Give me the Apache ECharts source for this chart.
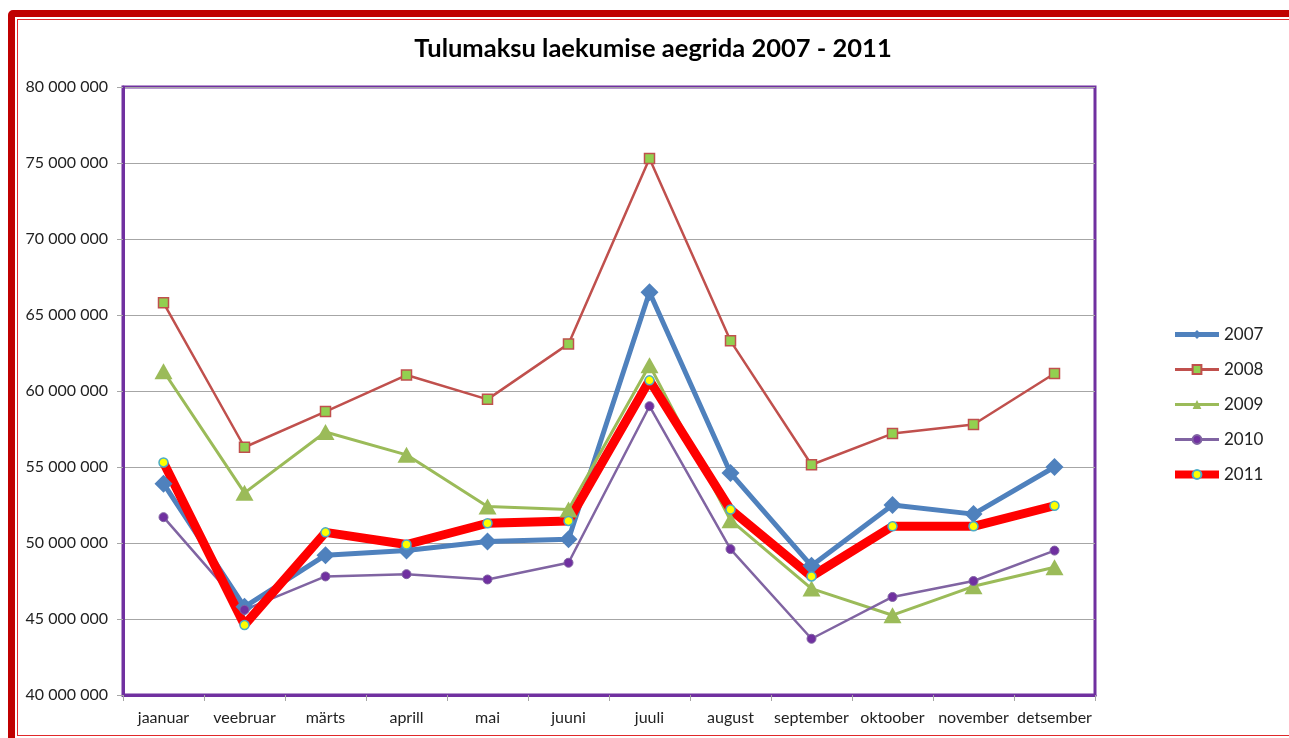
<!DOCTYPE html>
<html>
<head>
<meta charset="utf-8">
<script src="https://cdn.jsdelivr.net/npm/echarts@6/dist/echarts.min.js"></script>
<style>
  html, body { margin: 0; padding: 0; background: #fff; overflow: hidden; }
  .frame-outer {
    position: absolute; left: 8px; top: 10px; width: 1300px; height: 735px;
    box-sizing: border-box; border: 7px solid #C00000; border-radius: 5px 0 0 0;
  }
  .frame-inner {
    position: absolute; left: 2px; top: 2px; right: 2px; bottom: 2px;
    border: 1px solid #E0282A;
  }
  #chart { position: absolute; left: 0; top: 0; width: 1289px; height: 738px; }
</style>
</head>
<body>
<div class="frame-outer"><div class="frame-inner"></div></div>
<div id="chart"></div>
<script>
// kuud
const months = ['jaanuar', 'veebruar', 'märts', 'aprill', 'mai', 'juuni', 'juuli', 'august', 'september', 'oktoober', 'november', 'detsember']

// laekumised, miljonites
const y2007 = [53.9, 45.8, 49.2, 49.5, 50.1, 50.25, 66.5, 54.6, 48.5, 52.5, 51.9, 55.0]
const y2008 = [65.8, 56.3, 58.65, 61.05, 59.45, 63.1, 75.3, 63.3, 55.15, 57.2, 57.8, 61.15]
const y2009 = [61.3, 53.3, 57.3, 55.8, 52.4, 52.2, 61.7, 51.5, 47.0, 45.25, 47.15, 48.4]
const y2010 = [51.7, 45.6, 47.8, 47.95, 47.6, 48.7, 59.0, 49.6, 43.7, 46.45, 47.5, 49.5]
const y2011 = [55.3, 44.6, 50.7, 49.9, 51.3, 51.45, 60.7, 52.2, 47.8, 51.1, 51.1, 52.45]

const toValues = arr => arr.map(v => Math.round(v * 1000000))
const fmt = v => String(v).replace(/\B(?=(\d{3})+(?!\d))/g, ' ')

const FONT = 'Lato, "Open Sans", sans-serif'

const myChart = echarts.init(document.getElementById('chart'))

const chartOption = {
  animation: false,
  title: {
    text: 'Tulumaksu laekumise aegrida 2007 - 2011',
    left: 648,
    top: 31,
    textAlign: 'center',
    textStyle: { fontFamily: FONT, fontSize: 25.5, fontWeight: 'bold', color: '#000' }
  },
  legend: {
    orient: 'vertical',
    left: 1166,
    top: 321,
    itemWidth: 44,
    itemHeight: 11,
    itemGap: 18,
    textStyle: { fontFamily: FONT, fontSize: 17, lineHeight: 11, color: '#222' },
    data: [
      { name: '2007', lineStyle: { width: 5 } },
      { name: '2008', lineStyle: { width: 3 } },
      { name: '2009', lineStyle: { width: 3 } },
      { name: '2010', lineStyle: { width: 3 } },
      { name: '2011', lineStyle: { width: 8 } }
    ]
  },
  grid: {
    left: 123,
    top: 87,
    right: 194,
    bottom: 43,
    show: true,
    borderColor: '#7030A0',
    borderWidth: 3,
    containLabel: false
  },
  xAxis: {
    type: 'category',
    data: months,
    boundaryGap: true,
    axisLine: { show: true, lineStyle: { color: '#7030A0', width: 3 } },
    axisTick: { show: true, interval: 0, length: 6, lineStyle: { color: '#A6A6A6', width: 1 } },
    axisLabel: { interval: 0, margin: 15, fontFamily: FONT, fontSize: 16, color: '#222' }
  },
  yAxis: {
    type: 'value',
    min: 40000000,
    max: 80000000,
    interval: 5000000,
    axisLine: { show: true, lineStyle: { color: '#7030A0', width: 3 } },
    axisTick: { show: true, length: 6, lineStyle: { color: '#A6A6A6', width: 1 } },
    axisLabel: { margin: 15, fontFamily: FONT, fontSize: 16, color: '#222', formatter: fmt },
    splitLine: { show: true, lineStyle: { color: '#A6A6A6', width: 1 } }
  },
  series: [
    {
      name: '2007',
      type: 'line',
      data: toValues(y2007),
      color: '#4F81BD',
      lineStyle: { width: 5, color: '#4F81BD' },
      symbol: 'diamond',
      symbolSize: [18, 18],
      itemStyle: { color: '#4F81BD' }
    },
    {
      name: '2008',
      type: 'line',
      data: toValues(y2008),
      color: '#C0504D',
      lineStyle: { width: 2.5, color: '#C0504D' },
      symbol: 'rect',
      symbolSize: 10,
      itemStyle: { color: '#92D050', borderColor: '#C0504D', borderWidth: 1.5 }
    },
    {
      name: '2009',
      type: 'line',
      data: toValues(y2009),
      color: '#9BBB59',
      lineStyle: { width: 3, color: '#9BBB59' },
      symbol: 'triangle',
      symbolSize: [18, 16],
      itemStyle: { color: '#9BBB59' }
    },
    {
      name: '2010',
      type: 'line',
      data: toValues(y2010),
      color: '#8064A2',
      lineStyle: { width: 2.5, color: '#8064A2' },
      symbol: 'circle',
      symbolSize: 9,
      itemStyle: { color: '#7030A0', borderColor: '#8064A2', borderWidth: 1 }
    },
    {
      name: '2011',
      type: 'line',
      data: toValues(y2011),
      color: '#FF0000',
      lineStyle: { width: 9, color: '#FF0000' },
      symbol: 'circle',
      symbolSize: 9,
      itemStyle: { color: '#FFFF00', borderColor: '#4BACC6', borderWidth: 1.5 }
    }
  ]
}

myChart.setOption(chartOption)
window.addEventListener('resize', myChart.resize)
</script>
</body>
</html>
